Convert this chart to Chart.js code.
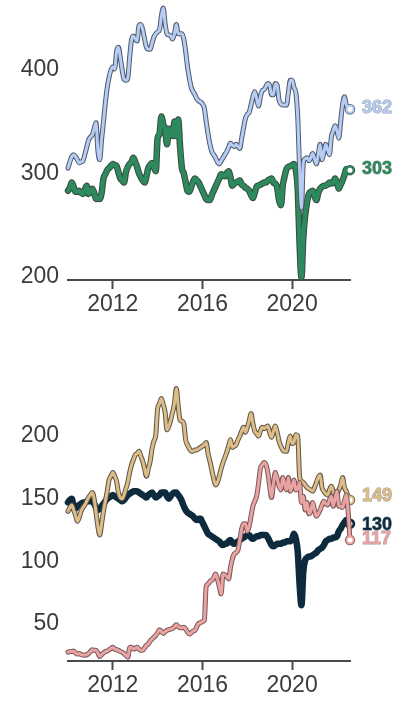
<!DOCTYPE html>
<html>
<head>
<meta charset="utf-8">
<script src="https://cdn.jsdelivr.net/npm/chart.js@4.4.1/dist/chart.umd.min.js"></script>
<style>
  body { margin: 0; background: #fff; }
  .wrap { position: relative; width: 402px; height: 703px; }
  canvas { position: absolute; left: 0; }
  #top { top: 0; }
  #bottom { top: 335px; }
</style>
</head>
<body>
<div class="wrap">
  <canvas id="top" width="402" height="335"></canvas>
  <canvas id="bottom" width="402" height="368"></canvas>
</div>
<script>
// monthly series, Jan 2010 .. Aug 2022
const startYear = 2010;
const xTicks = [2012, 2016, 2020];
const topTicks = [200, 300, 400];
const bottomTicks = [50, 100, 150, 200];

const topBlue = [
  305, 311, 316, 318, 316, 313, 310, 311, 312, 318, 325, 332,
  335, 337, 343, 349, 322, 313, 333, 350, 368, 383, 393, 400,
  403, 401, 418, 422, 412, 400, 391, 390, 392, 412, 429, 433,
  430, 428, 443, 444, 439, 430, 422, 420, 420, 426, 432, 435,
  437, 439, 452, 460, 445, 435, 434, 433, 430, 435, 444, 435,
  435, 435, 430, 418, 403, 392, 383, 379, 376, 372, 370, 369,
  367, 363, 350, 338, 328, 321, 318, 315, 311, 309, 312, 315,
  318, 321, 325, 329, 327, 326, 328, 326, 324, 334, 344, 353,
  357, 359, 366, 374, 379, 372, 365, 374, 380, 381, 384, 387,
  385, 376, 376, 387, 385, 371, 367, 366, 366, 366, 378, 390,
  390, 383, 378, 355, 305, 266, 310, 314, 315, 312, 315, 319,
  314, 309, 318, 328, 313, 320, 328, 323, 318, 335, 341, 346,
  341, 334, 350, 366, 374, 366, 363, 362
];

const topGreen = [
  283, 286, 291, 287, 282, 282, 283, 281, 280, 284, 288, 280,
  282, 285, 281, 275, 276, 275, 281, 295, 299, 303, 305, 307,
  309, 308, 307, 301, 295, 293, 291, 301, 306, 309, 311, 315,
  311, 306, 300, 296, 293, 291, 297, 305, 308, 310, 306, 302,
  334, 338, 355, 347, 343, 328, 343, 340, 336, 350, 336, 352,
  326, 305, 300, 291, 283, 282, 287, 292, 295, 293, 291, 287,
  283, 279, 275, 274, 274, 279, 283, 287, 291, 295, 299, 298,
  297, 300, 302, 296, 288, 290, 291, 292, 293, 289, 288, 286,
  285, 283, 279, 276, 281, 287, 288, 289, 290, 291, 291, 293,
  294, 295, 291, 290, 286, 274, 269, 288, 297, 304, 306, 307,
  308, 309, 303, 285, 232, 199, 238, 259, 272, 280, 282, 283,
  278, 274, 281, 285, 287, 288, 288, 289, 291, 290, 291, 295,
  291, 285, 289, 293, 298, 304, 302, 303
];

const bottomTan = [
  140, 143, 145, 141, 137, 132, 135, 140, 143, 145, 148, 151,
  153, 155, 150, 139, 128, 121, 130, 140, 148, 156, 165, 168,
  171, 168, 164, 155, 151, 150, 153, 158, 163, 171, 177, 181,
  185, 186, 188, 184, 180, 174, 168, 174, 180, 190, 196, 201,
  222, 226, 230, 225, 219, 205, 208, 213, 219, 226, 238, 224,
  213, 212, 210, 197, 193, 190, 188, 188, 189, 189, 190, 191,
  192, 193, 195, 186, 180, 173, 166, 161, 163, 168, 174, 179,
  183, 187, 192, 197, 191, 192, 193, 197, 200, 204, 207, 203,
  207, 212, 218, 210, 204, 202, 200, 204, 207, 206, 207, 208,
  203, 199, 204, 208, 203, 196, 192, 189, 188, 188, 195, 200,
  194, 195, 201, 200, 168, 164, 163, 161, 159, 158, 157, 156,
  159, 163, 167, 169, 159, 156, 154, 153, 157, 160, 156, 152,
  154, 157, 161, 167, 159, 156, 152, 149
];

const bottomNavy = [
  147, 149, 150, 144, 142, 144, 145, 146, 147, 147, 148, 148,
  148, 148, 146, 143, 141, 142, 144, 146, 148, 150, 151, 152,
  153, 152, 151, 150, 149, 148, 149, 151, 153, 154, 155, 156,
  156, 156, 155, 154, 153, 152, 151, 153, 154, 155, 153, 151,
  152, 153, 155, 155, 155, 152, 150, 152, 154, 155, 155, 153,
  151, 148, 144, 141, 139, 138, 137, 136, 134, 133, 134, 134,
  131, 128, 125, 122, 121, 120, 119, 118, 117, 116, 114, 113,
  114, 114, 116, 117, 115, 114, 115, 116, 117, 118, 119, 120,
  121, 121, 119, 118, 119, 120, 120, 121, 121, 121, 121, 119,
  116, 113, 112, 113, 114, 114, 114, 115, 115, 116, 116, 116,
  118, 122, 118, 108, 82, 65, 92, 101, 103, 104, 104, 105,
  106, 107, 109, 110, 111, 113, 116, 117, 118, 118, 119, 119,
  120, 124, 126, 129, 131, 133, 133, 130
];

const bottomPink = [
  27.5, 28, 28, 28.5, 27, 26, 26.5, 25.5, 25.5, 25, 25.5, 26.5,
  28, 29.5, 29, 29, 27, 24, 25.5, 27, 28, 28.5, 29.5, 30.5,
  31.5, 30, 29.5, 29, 28, 27.5, 26.5, 25, 23.5, 31, 31.5, 30,
  30.5, 31.5, 30, 29, 29, 31, 33, 34, 36.5, 38, 39.5, 41,
  43, 45.5, 44, 42.5, 44, 45, 45.5, 46, 46.5, 48, 49.5, 48,
  47, 47, 47.5, 46, 43.5, 42, 43, 44.5, 45, 48, 50.5, 51,
  52, 53, 80, 82, 84, 85, 87, 90, 86, 80, 74, 90,
  89, 88, 86, 95, 102, 106, 107, 109, 117, 126, 130, 130,
  124, 128, 136, 144, 148, 152, 162, 174, 177, 179, 177, 171,
  160, 151, 162, 171, 166, 160, 157, 167, 162, 157, 167, 156,
  160, 165, 157, 158, 163, 147, 152, 141, 147, 138, 140, 147,
  141, 136, 138, 141, 145, 148, 146, 145, 149, 152, 144, 150,
  156, 144, 144, 143, 148, 153, 140, 117
];

const FONT = '"Liberation Sans", Arial, sans-serif';

// each series = dark casing line underneath + coloured line on top
function series(values, opt) {
  const pts = values.map((v, i) => ({ x: startYear + i / 12, y: v }));
  const last = values.length - 1;
  const atEnd = r => ctx => (ctx.dataIndex === last ? r : 0);
  return [
    {
      data: pts,
      clip: false,
      borderColor: opt.outline,
      borderWidth: opt.width + 2,
      order: opt.order + 1,
      pointRadius: atEnd(3.5),
      pointBorderWidth: 3.5,
      pointBorderColor: opt.outline,
      pointBackgroundColor: '#fff'
    },
    {
      data: pts,
      clip: false,
      borderColor: opt.color,
      borderWidth: opt.width,
      order: opt.order,
      pointRadius: atEnd(3.5),
      pointBorderWidth: 2,
      pointBorderColor: opt.color,
      pointBackgroundColor: '#fff',
      endLabel: { color: opt.color, stroke: opt.outline, dy: opt.dy || 0 }
    }
  ];
}

const endLabels = {
  id: 'endLabels',
  afterDatasetsDraw(chart) {
    const ctx = chart.ctx;
    chart.data.datasets.forEach((ds, i) => {
      if (!ds.endLabel) return;
      const meta = chart.getDatasetMeta(i);
      const pt = meta.data[meta.data.length - 1];
      const text = String(ds.data[ds.data.length - 1].y);
      ctx.save();
      ctx.font = 'bold 18px ' + FONT;
      ctx.textAlign = 'left';
      ctx.textBaseline = 'middle';
      ctx.lineWidth = 1;
      ctx.lineJoin = 'round';
      ctx.strokeStyle = ds.endLabel.stroke;
      ctx.globalAlpha = 0.6;
      ctx.strokeText(text, pt.x + 12, pt.y + ds.endLabel.dy);
      ctx.globalAlpha = 1;
      ctx.fillStyle = ds.endLabel.color;
      ctx.fillText(text, pt.x + 12, pt.y + ds.endLabel.dy);
      ctx.restore();
    });
  }
};

function makeChart(id, datasets, yMin, yMax, yTicks, padTop, xHeight) {
  return new Chart(document.getElementById(id), {
    type: 'line',
    data: { datasets },
    plugins: [endLabels],
    options: {
      responsive: false,
      animation: false,
      devicePixelRatio: 1,
      layout: { padding: { top: padTop, right: 52, bottom: 0, left: 0 } },
      elements: {
        line: { cubicInterpolationMode: 'monotone', borderJoinStyle: 'round', borderCapStyle: 'round' },
        point: { hoverRadius: 0 }
      },
      plugins: { legend: { display: false }, tooltip: { enabled: false } },
      events: [],
      scales: {
        x: {
          type: 'linear',
          min: startYear,
          max: startYear + (topBlue.length - 1) / 12,
          afterBuildTicks: s => { s.ticks = xTicks.map(v => ({ value: v })); },
          afterFit: s => { s.height = xHeight; s.paddingLeft = 0; s.paddingRight = 0; },
          grid: { drawOnChartArea: false, drawTicks: true, tickLength: 9, tickWidth: 2, tickColor: '#4a4a4a', color: '#4a4a4a' },
          border: { display: true, color: '#4a4a4a', width: 2 },
          ticks: { color: '#3b3b3b', font: { family: FONT, size: 23 }, padding: 2, maxRotation: 0, callback: v => String(v) }
        },
        y: {
          min: yMin,
          max: yMax,
          afterBuildTicks: s => { s.ticks = yTicks.map(v => ({ value: v })); },
          afterFit: s => { s.width = 68; s.paddingTop = 0; s.paddingBottom = 0; },
          grid: { display: false, drawTicks: false },
          border: { display: false },
          ticks: { color: '#3b3b3b', font: { family: FONT, size: 23 }, padding: 9, callback: v => String(v) }
        }
      }
    }
  });
}

makeChart('top', [
  ...series(topBlue, { color: '#b6ccf2', outline: '#4f5a6b', width: 3, order: 0, dy: -1 }),
  ...series(topGreen, { color: '#2c8a5d', outline: '#3a4a41', width: 4.5, order: 2, dy: -1 })
], 196.6, 461, topTicks, 5, 55);

makeChart('bottom', [
  ...series(bottomPink, { color: '#eaa3a3', outline: '#7b5858', width: 3, order: 0, dy: -1 }),
  ...series(bottomTan, { color: '#dcbc88', outline: '#5f5545', width: 3, order: 2, dy: -4 }),
  ...series(bottomNavy, { color: '#0d2b3d', outline: '#0d2b3d', width: 4.5, order: 4, dy: 1 })
], 20.5, 240, bottomTicks, 51, 42);
</script>
</body>
</html>
